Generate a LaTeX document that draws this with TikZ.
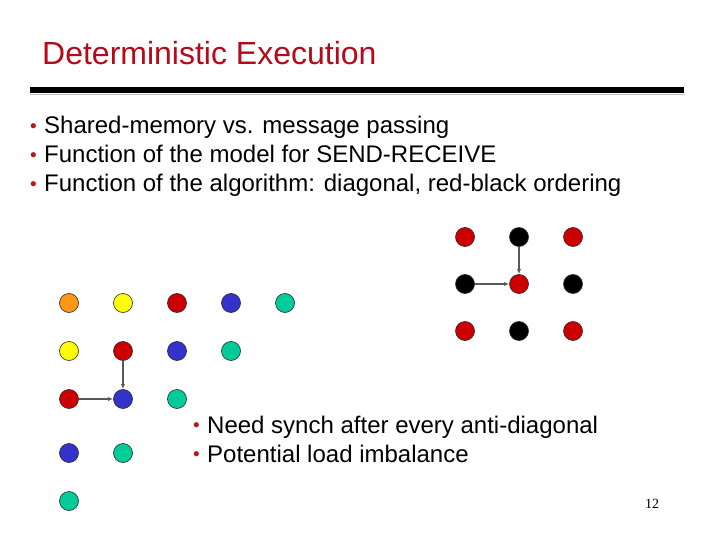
\documentclass[tikz,border=0pt]{standalone}
\usepackage{fontspec}
\setmainfont{Liberation Sans}
\newfontfamily\pagefont{Liberation Serif}
\usepackage{tikz}
\usetikzlibrary{arrows.meta}
\definecolor{titlered}{RGB}{180,10,25}
\definecolor{bulletred}{RGB}{190,20,30}
\definecolor{cOrange}{RGB}{255,150,20}
\definecolor{cYellow}{RGB}{255,255,0}
\definecolor{cRed}{RGB}{204,0,0}
\definecolor{cBlue}{RGB}{51,51,204}
\definecolor{cGreen}{RGB}{0,204,153}
\newcommand{\bul}{\makebox[14pt][l]{\raisebox{1.2pt}{\fontsize{19}{19}\selectfont\textcolor{bulletred}{\textbullet}}}}
\tikzset{
    cell/.style={draw=black!85, circle, line width=0.6pt, minimum size=19pt, inner sep=0pt},
    txt/.style={anchor=base west, inner sep=0pt, font=\fontsize{24}{29}\selectfont},
    link/.style={draw=black!65, line width=1.2pt, -{Latex[length=5pt,width=4pt]}}
}

\begin{document}
\begin{tikzpicture}[x=1pt,y=-1pt]
\useasboundingbox[fill=white] (0,0) rectangle (720,540);
% title and rule
\node[anchor=base west, inner sep=0pt, text=titlered, font=\fontsize{32}{38}\selectfont] (title) at (42,65) {Deterministic Execution};
\fill[black] (30,87) rectangle (684,93);
\draw[black!25, line width=0.8pt] (30,94.2) -- (684,94.2);
% bullets
\node[txt] (b1) at (30,134) {\bul Shared-memory vs. message passing};
\node[txt] (b2) at (30,163) {\bul Function of the model for SEND-RECEIVE};
\node[txt] (b3) at (30,192) {\bul Function of the algorithm: diagonal, red-black ordering};
\node[txt] (c1) at (193,433) {\bul Need synch after every anti-diagonal};
\node[txt] (c2) at (193,462) {\bul Potential load imbalance};
% diagonal ordering
\node[cell, fill=cOrange] (d00) at (69,303) {};
\node[cell, fill=cYellow] (d01) at (123,303) {};
\node[cell, fill=cRed] (d02) at (177,303) {};
\node[cell, fill=cBlue] (d03) at (231,303) {};
\node[cell, fill=cGreen] (d04) at (285,303) {};
\node[cell, fill=cYellow] (d10) at (69,351) {};
\node[cell, fill=cRed] (d11) at (123,351) {};
\node[cell, fill=cBlue] (d12) at (177,351) {};
\node[cell, fill=cGreen] (d13) at (231,351) {};
\node[cell, fill=cRed] (d20) at (69,399) {};
\node[cell, fill=cBlue] (d21) at (123,399) {};
\node[cell, fill=cGreen] (d22) at (177,399) {};
\node[cell, fill=cBlue] (d30) at (69,453) {};
\node[cell, fill=cGreen] (d31) at (123,453) {};
\node[cell, fill=cGreen] (d40) at (69,501) {};
\draw[link] (d20) -- (d21);
\draw[link] (d11) -- (d21);
% red-black ordering
\node[cell, fill=cRed] (rb00) at (465,237) {};
\node[cell, fill=black] (rb01) at (519,237) {};
\node[cell, fill=cRed] (rb02) at (573,237) {};
\node[cell, fill=black] (rb10) at (465,284) {};
\node[cell, fill=cRed] (rb11) at (519,284) {};
\node[cell, fill=black] (rb12) at (573,284) {};
\node[cell, fill=cRed] (rb20) at (465,331) {};
\node[cell, fill=black] (rb21) at (519,331) {};
\node[cell, fill=cRed] (rb22) at (573,331) {};
\draw[link] (rb10) -- (rb11);
\draw[link] (rb01) -- (rb11);
% page number
\node[anchor=base west, inner sep=0pt, font=\pagefont\fontsize{14}{16}\selectfont] (pg) at (645,508) {12};
\end{tikzpicture}
\end{document}
